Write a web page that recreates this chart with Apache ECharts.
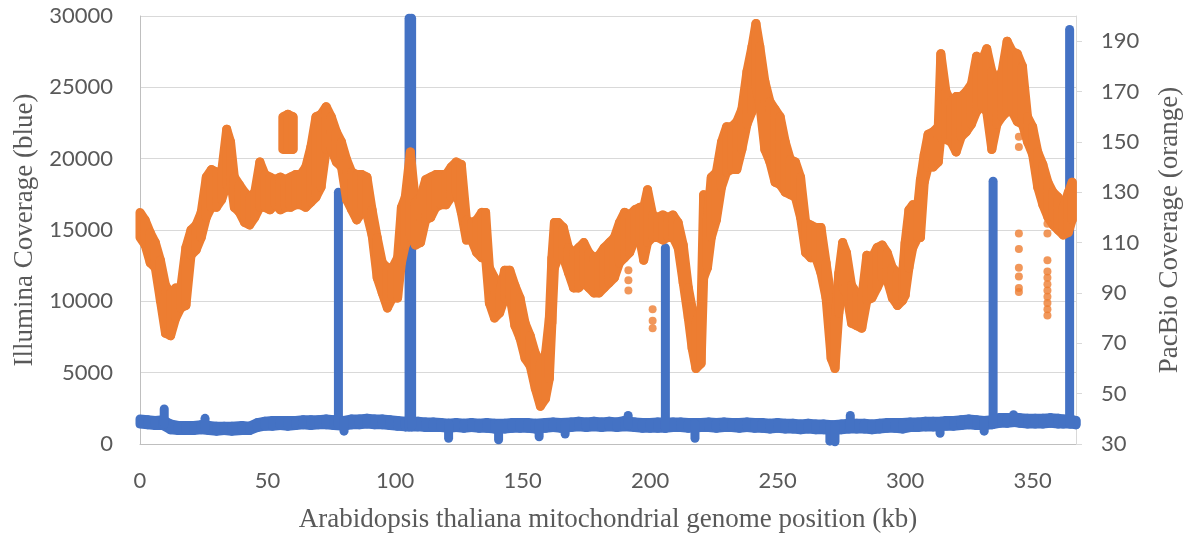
<!DOCTYPE html>
<html>
<head>
<meta charset="utf-8">
<title>Arabidopsis thaliana mitochondrial genome coverage</title>
<script src="https://cdn.jsdelivr.net/npm/echarts@6/dist/echarts.min.js"></script>
<style>
  html, body { margin: 0; padding: 0; background: #ffffff; }
  #chart { width: 1191px; height: 540px; }
</style>
</head>
<body>
<div id="chart"></div>
<script>
// Tick values
const kbTicks = [0, 50, 100, 150, 200, 250, 300, 350];
const pacbioTicks = [30, 50, 70, 90, 110, 130, 150, 170, 190];

// Illumina coverage along the genome: [position kb, low, high]
const illuminaBaseline = [
  [0, 1400, 1750], [3, 1350, 1700], [6, 1300, 1650], [9, 1300, 1700],
  [12, 1000, 1400], [15, 950, 1300], [18, 950, 1300], [21, 950, 1300],
  [24, 1000, 1350], [27, 950, 1300], [30, 900, 1250], [33, 950, 1250],
  [36, 900, 1250], [40, 950, 1300], [43, 950, 1250], [46, 1150, 1500],
  [49, 1250, 1600], [52, 1250, 1650], [55, 1300, 1650], [58, 1250, 1650],
  [61, 1300, 1650], [64, 1350, 1700], [67, 1300, 1700], [70, 1350, 1700],
  [73, 1350, 1750], [76, 1300, 1700], [80, 1250, 1650], [83, 1350, 1750],
  [86, 1350, 1750], [89, 1400, 1800], [92, 1350, 1750], [95, 1350, 1750],
  [98, 1300, 1700], [101, 1250, 1650], [104, 1200, 1600], [109, 1200, 1600],
  [112, 1150, 1550], [115, 1150, 1550], [118, 1150, 1500], [121, 1100, 1450],
  [124, 1150, 1500], [127, 1100, 1450], [130, 1150, 1500], [133, 1100, 1450],
  [136, 1100, 1500], [139, 1050, 1450], [143, 1050, 1450], [146, 1100, 1500],
  [149, 1100, 1500], [152, 1100, 1500], [155, 1050, 1450], [159, 1100, 1500],
  [162, 1150, 1550], [165, 1100, 1500], [169, 1150, 1550], [172, 1200, 1600],
  [175, 1150, 1550], [178, 1200, 1600], [181, 1150, 1550], [184, 1200, 1600],
  [187, 1150, 1550], [190, 1200, 1650], [194, 1150, 1550], [197, 1100, 1500],
  [200, 1100, 1500], [203, 1100, 1550], [206, 1100, 1550], [209, 1150, 1550],
  [212, 1150, 1550], [215, 1100, 1500], [220, 1150, 1500], [223, 1150, 1550],
  [226, 1100, 1500], [229, 1150, 1550], [232, 1150, 1500], [235, 1100, 1500],
  [238, 1150, 1550], [241, 1100, 1500], [244, 1100, 1500], [247, 1050, 1450],
  [250, 1100, 1500], [253, 1050, 1450], [256, 1050, 1450], [259, 1000, 1400],
  [262, 1050, 1450], [265, 1000, 1400], [268, 1000, 1400], [271.5, 950, 1350],
  [275, 1000, 1400], [278, 1050, 1450], [281, 1050, 1450], [284, 1050, 1450],
  [287, 1000, 1400], [290, 1050, 1450], [293, 1100, 1500], [296, 1100, 1500],
  [299, 1050, 1500], [302, 1150, 1550], [305, 1150, 1550], [308, 1200, 1600],
  [311, 1200, 1600], [314, 1200, 1600], [316, 1250, 1650], [319, 1250, 1650],
  [322, 1300, 1700], [325, 1350, 1750], [328, 1300, 1700], [331, 1300, 1650],
  [334, 1350, 1700], [337, 1450, 1850], [340, 1450, 1850], [343, 1500, 1900],
  [345, 1450, 1850], [348, 1400, 1800], [351, 1400, 1800], [354, 1400, 1800],
  [357, 1450, 1850], [360, 1400, 1800], [362, 1400, 1750], [365, 1400, 1750],
  [367, 1350, 1650]
];

// Narrow Illumina excursions (peaks, bumps and dips): [position kb, low, high]
const illuminaSpikes = [
  [9.5, 1400, 2450], [25.5, 1100, 1800], [77.8, 1300, 17650], [80, 900, 1650],
  [105.5, 1200, 29850], [106.5, 1200, 29850], [121, 400, 1450], [140.6, 300, 1400],
  [156.5, 500, 1400], [166.7, 700, 1450], [191.4, 1300, 2000], [206, 1100, 13750],
  [217.6, 400, 1450], [270.5, 200, 1300], [272.5, 150, 1300], [278.5, 1100, 2000],
  [313.7, 750, 1550], [331, 900, 1650], [334.5, 1400, 18420], [342.5, 1500, 2050],
  [364.5, 1400, 29050]
];

// PacBio coverage along the genome: [position kb, low, high]
const pacbioMain = [
  [0, 112, 122], [2, 109, 119], [4, 102, 114], [6, 100, 110], [8, 87, 103],
  [10, 74, 93], [12, 73, 90], [14, 80, 92], [16, 84, 92], [18, 85, 108],
  [20, 105, 115], [22, 107, 117], [24, 112, 122], [26, 120, 136], [28, 124, 139],
  [30, 124, 138], [32, 127, 138], [34, 133, 155], [35.5, 135, 150], [37, 124, 136],
  [39, 122, 133], [41, 118, 130], [43, 117, 128], [45, 120, 130], [47, 124, 142],
  [49, 124, 137], [51, 123, 136], [53, 125, 135], [55, 123, 136], [57, 124, 135],
  [59, 124, 136], [61, 125, 137], [63, 125, 137], [65, 124, 140], [67, 126, 148],
  [69, 128, 160], [71, 132, 161], [73, 147, 164], [75, 147, 160], [77, 142, 154],
  [79, 140, 150], [81, 127, 143], [83, 123, 138], [85, 119, 137], [87, 122, 137],
  [89, 121, 136], [91, 113, 123], [93, 96, 112], [95, 90, 102], [97, 84, 100],
  [99, 88, 100], [101, 88, 104], [102.5, 102, 124], [104, 109, 128], [106, 113, 146],
  [108, 109, 126], [110, 110, 128], [112, 119, 135], [114, 120, 136], [116, 124, 137],
  [118, 125, 137], [120, 125, 137], [122, 128, 140], [124, 130, 142], [126, 122, 141],
  [128, 111, 119], [130, 111, 118], [132, 106, 119], [134, 104, 122], [135.5, 104, 122],
  [137, 86, 100], [139, 80, 96], [141, 82, 90], [143, 88, 99], [145, 89, 99],
  [147, 77, 93], [149, 72, 88], [151, 64, 78], [153, 61, 73], [155, 52, 66],
  [157, 45, 62], [159, 48, 66], [160.5, 56, 80], [161.5, 78, 104], [162.5, 100, 118],
  [164, 104, 118], [166, 104, 116], [168, 98, 108], [170, 92, 106], [172, 92, 108],
  [174, 94, 110], [176, 92, 106], [178, 90, 104], [180, 90, 105], [182, 92, 108],
  [184, 94, 110], [186, 96, 112], [188, 102, 118], [190, 104, 122], [192, 106, 121],
  [194, 111, 123], [196, 111, 124], [197.5, 103, 124], [199, 110, 131], [201, 112, 121],
  [203, 112, 120], [205, 111, 121], [207, 112, 120], [209, 112, 121], [211, 108, 118],
  [213, 94, 109], [215, 80, 92], [216.5, 68, 84], [218, 60, 78], [220, 62, 84],
  [221, 96, 129], [222.5, 100, 120], [224, 112, 136], [226, 119, 138], [228, 132, 150],
  [230, 138, 156], [232, 139, 156], [234, 139, 158], [236, 147, 163], [238, 157, 178],
  [240, 162, 188], [241.5, 172, 197], [243, 165, 188], [245, 147, 174], [247, 142, 166],
  [249, 134, 163], [251, 133, 160], [253, 130, 150], [255, 129, 143], [257, 128, 142],
  [259, 120, 136], [261, 106, 118], [263, 104, 117], [265, 104, 116], [267, 98, 116],
  [269, 88, 102], [271, 64, 88], [272.5, 60, 78], [274, 82, 98], [275.5, 92, 110],
  [277, 90, 106], [279, 78, 93], [281, 77, 90], [283, 76, 88], [285, 87, 105],
  [287, 88, 104], [289, 92, 108], [291, 96, 109], [293, 95, 106], [295, 88, 100],
  [297, 85, 98], [299, 87, 98], [300, 89, 110], [301.5, 100, 123], [303, 108, 125],
  [305, 112, 125], [306, 112, 135], [307.5, 134, 145], [309, 140, 153], [311, 140, 154],
  [313, 142, 156], [314, 152, 185], [316, 151, 170], [318, 150, 166], [320, 146, 168],
  [322, 152, 168], [324, 154, 170], [326, 157, 173], [328, 162, 184], [330, 164, 182],
  [332, 162, 187], [334, 147, 178], [336, 157, 174], [338, 160, 178], [340, 162, 190],
  [342, 162, 186], [344, 158, 185], [346, 157, 180], [348, 150, 160], [350, 145, 156],
  [352, 132, 146], [354, 125, 141], [356, 120, 134], [358, 117, 130], [360, 115, 128],
  [362, 113, 124], [364, 114, 130], [365.5, 119, 134]
];

// Raised PacBio cluster sitting above the main band near 57 kb
const pacbioRaised = [[56, 147, 160], [58, 147, 161], [60, 147, 160]];

// Isolated PacBio readings away from the main band: [position kb, coverage]
const pacbioOutliers = [
  [191.5, 99], [191.5, 95], [191.5, 91],
  [201, 83.5], [201, 79], [201, 76],
  [344.6, 152], [344.6, 148], [344.6, 113.6], [344.6, 107.5], [344.6, 100],
  [344.6, 96.5], [344.6, 92], [344.6, 90.4],
  [355.8, 117.5], [355.8, 113.6], [355.8, 103], [355.8, 98.5], [355.8, 96],
  [355.8, 93.5], [355.8, 91], [355.8, 88.5], [355.8, 86], [355.8, 83.5], [355.8, 81]
];

const BLUE = '#4472C4';
const ORANGE = '#ED7D31';
const TEXT = '#595959';
const MARK = 9;

// A continuous band: each entry is joined to the next by a filled quad,
// outlined with a stroke one marker wide so the band has rounded edges.
function bandSeries(run, color, yAxisIndex, z) {
  return {
    type: 'custom',
    xAxisIndex: 0,
    yAxisIndex: yAxisIndex,
    encode: { x: 0, y: [1, 2] },
    data: run,
    z: z,
    renderItem: function (params, api) {
      const i = params.dataIndex;
      const a = run[i];
      const b = run[Math.min(i + 1, run.length - 1)];
      const pts = [
        api.coord([a[0], a[2]]),
        api.coord([b[0], b[2]]),
        api.coord([b[0], b[1]]),
        api.coord([a[0], a[1]])
      ];
      return {
        type: 'polygon',
        shape: { points: pts },
        style: { fill: color, stroke: color, lineWidth: MARK, lineJoin: 'round', lineCap: 'round' }
      };
    }
  };
}

// Narrow vertical excursions, one marker wide.
function spikeSeries(list, color, yAxisIndex, z) {
  return {
    type: 'custom',
    xAxisIndex: 0,
    yAxisIndex: yAxisIndex,
    encode: { x: 0, y: [1, 2] },
    data: list,
    z: z,
    renderItem: function (params, api) {
      const p1 = api.coord([api.value(0), api.value(1)]);
      const p2 = api.coord([api.value(0), api.value(2)]);
      return {
        type: 'line',
        shape: { x1: p1[0], y1: p1[1], x2: p2[0], y2: p2[1] },
        style: { stroke: color, lineWidth: MARK, lineCap: 'round' }
      };
    }
  };
}

const chart = echarts.init(document.getElementById('chart'), null, { renderer: 'canvas' });

chart.setOption({
  animation: false,
  backgroundColor: '#ffffff',
  grid: { left: 140, right: 113, top: 16, bottom: 96 },
  xAxis: {
    type: 'value',
    min: 0,
    max: 367,
    interval: 50,
    name: 'Arabidopsis thaliana mitochondrial genome position (kb)',
    nameLocation: 'middle',
    nameGap: 62,
    nameTextStyle: { fontFamily: 'Liberation Serif', fontSize: 27, color: TEXT },
    axisLine: { show: true, lineStyle: { color: '#bfbfbf', width: 1 } },
    axisTick: { show: false },
    splitLine: { show: false },
    axisLabel: {
      customValues: kbTicks,
      margin: 26,
      fontFamily: 'Lato',
      fontSize: 22,
      color: TEXT
    }
  },
  yAxis: [
    {
      type: 'value',
      position: 'left',
      min: 0,
      max: 30000,
      interval: 5000,
      name: 'Illumina Coverage (blue)',
      nameLocation: 'middle',
      nameRotate: 90,
      nameGap: 102,
      nameTextStyle: { fontFamily: 'Liberation Serif', fontSize: 27, color: TEXT },
      axisLine: { show: true, lineStyle: { color: '#bfbfbf', width: 1 } },
      axisTick: { show: false },
      splitLine: { show: true, lineStyle: { color: '#d9d9d9', width: 1 } },
      axisLabel: {
        margin: 27,
        fontFamily: 'Lato',
        fontSize: 22,
        color: TEXT,
        formatter: function (v) { return String(v); }
      }
    },
    {
      type: 'value',
      position: 'right',
      min: 30,
      max: 200,
      interval: 20,
      name: 'PacBio Coverage (orange)',
      nameLocation: 'middle',
      nameRotate: 90,
      nameGap: 80,
      nameTextStyle: { fontFamily: 'Liberation Serif', fontSize: 27, color: TEXT },
      axisLine: { show: true, lineStyle: { color: '#d9d9d9', width: 1 } },
      axisTick: {
        show: true,
        inside: false,
        length: 6,
        customValues: pacbioTicks,
        lineStyle: { color: '#d9d9d9' }
      },
      splitLine: { show: false },
      axisLabel: {
        customValues: pacbioTicks,
        margin: 25,
        fontFamily: 'Lato',
        fontSize: 22,
        color: TEXT
      }
    }
  ],
  series: [
    bandSeries(illuminaBaseline, BLUE, 0, 2),
    spikeSeries(illuminaSpikes, BLUE, 0, 2),
    bandSeries(pacbioMain, ORANGE, 1, 3),
    bandSeries(pacbioRaised, ORANGE, 1, 3),
    {
      name: 'PacBio outliers',
      type: 'scatter',
      xAxisIndex: 0,
      yAxisIndex: 1,
      symbol: 'circle',
      symbolSize: 8,
      itemStyle: { color: ORANGE },
      data: pacbioOutliers,
      z: 4
    }
  ]
});
</script>
</body>
</html>
